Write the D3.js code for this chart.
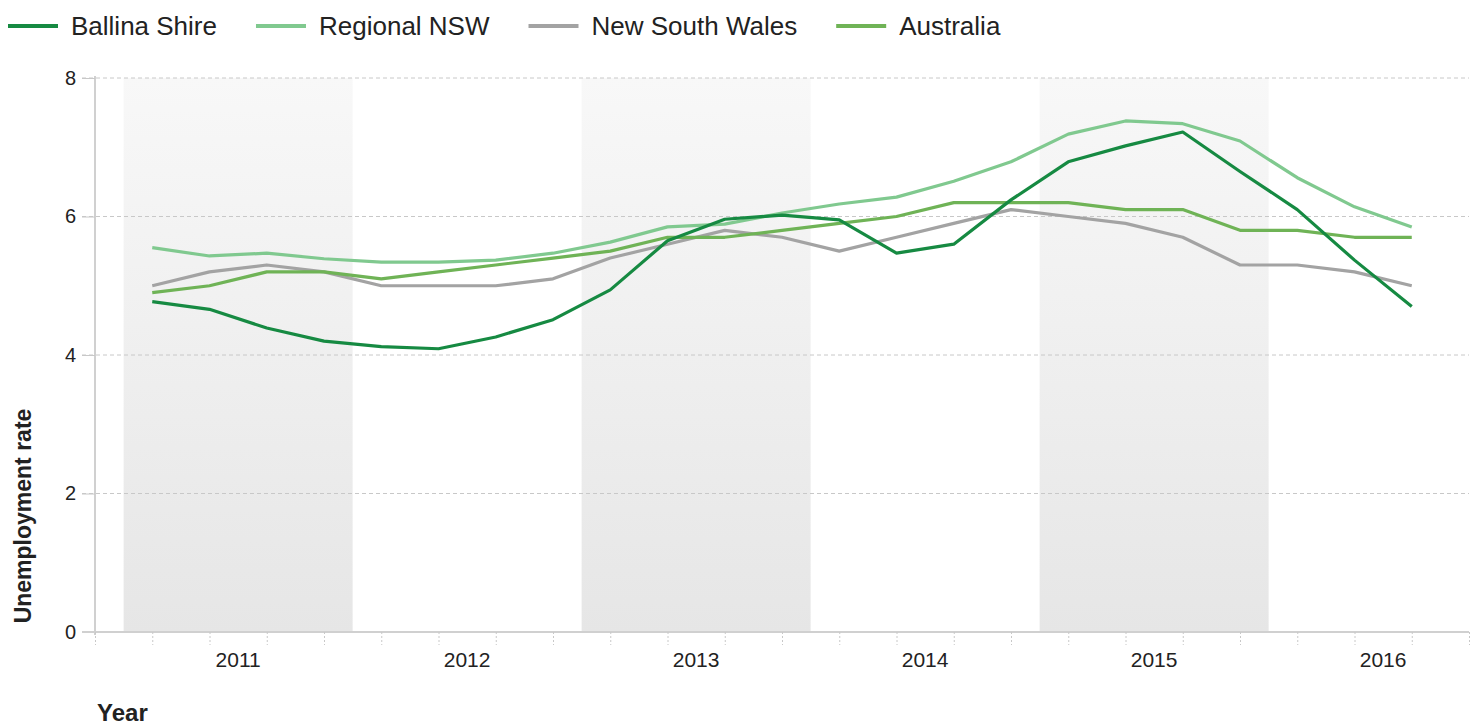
<!DOCTYPE html>
<html>
<head>
<meta charset="utf-8">
<script src="https://d3js.org/d3.v7.min.js"></script>
<style>
  body { margin: 0; background: #fff; }
  text { font-family: "Liberation Sans", Arial, sans-serif; fill: #222; }
</style>
</head>
<body>
<script>
// quarterly unemployment rate, Mar 2011 .. Sep 2016
var years = ["2011", "2012", "2013", "2014", "2015", "2016"];
var seriesNames = ["Ballina Shire", "Regional NSW", "New South Wales", "Australia"];
var ballina = [4.77, 4.66, 4.39, 4.20, 4.12, 4.09, 4.26, 4.51, 4.94, 5.65, 5.96, 6.02,
               5.95, 5.47, 5.60, 6.24, 6.79, 7.02, 7.22, 6.65, 6.10, 5.37, 4.70];
var regional = [5.55, 5.43, 5.47, 5.39, 5.34, 5.34, 5.37, 5.47, 5.63, 5.85, 5.89, 6.05,
                6.18, 6.28, 6.51, 6.79, 7.19, 7.38, 7.34, 7.09, 6.56, 6.14, 5.85];
var nsw = [5.0, 5.2, 5.3, 5.2, 5.0, 5.0, 5.0, 5.1, 5.4, 5.6, 5.8, 5.7,
           5.5, 5.7, 5.9, 6.1, 6.0, 5.9, 5.7, 5.3, 5.3, 5.2, 5.0];
var australia = [4.9, 5.0, 5.2, 5.2, 5.1, 5.2, 5.3, 5.4, 5.5, 5.7, 5.7, 5.8,
                 5.9, 6.0, 6.2, 6.2, 6.2, 6.1, 6.1, 5.8, 5.8, 5.7, 5.7];
var yTicks = [0, 2, 4, 6, 8];

var colors = ["#168a42", "#80c98f", "#a3a3a3", "#6fb356"];
var allSeries = [ballina, regional, nsw, australia];

var width = 1477, height = 725;
var plotL = 95, plotR = 1469, plotT = 78, plotB = 632;

var svg = d3.select("body").append("svg")
    .attr("width", width)
    .attr("height", height);

// x in quarter index, one extra slot on each side
var x = d3.scaleLinear().domain([-1, 23]).range([plotL, plotR]);
var y = d3.scaleLinear().domain([0, 8]).range([plotB, plotT]);

var defs = svg.append("defs");
var grad = defs.append("linearGradient")
    .attr("id", "band").attr("x1", 0).attr("y1", 0).attr("x2", 0).attr("y2", 1);
grad.append("stop").attr("offset", "0%").attr("stop-color", "#f8f8f8");
grad.append("stop").attr("offset", "100%").attr("stop-color", "#e6e6e6");

// shaded year bands (every other year)
svg.selectAll(".band")
    .data(years.filter(function(d, i) { return i % 2 == 0; }))
    .enter().append("rect")
    .attr("x", function(d) { return x(years.indexOf(d) * 4 - 0.5); })
    .attr("width", x(3.5) - x(-0.5))
    .attr("y", plotT)
    .attr("height", plotB - plotT)
    .attr("fill", "url(#band)");

// gridlines
svg.selectAll(".grid")
    .data(yTicks.filter(function(d) { return d > 0; }))
    .enter().append("line")
    .attr("x1", plotL - 13).attr("x2", plotR)
    .attr("y1", function(d) { return y(d); })
    .attr("y2", function(d) { return y(d); })
    .attr("stroke", "#c8c8c8")
    .attr("stroke-dasharray", "4,3");

// y axis
var yAxis = svg.append("g")
    .attr("transform", "translate(" + plotL + ",0)")
    .call(d3.axisLeft(y).tickValues(yTicks).tickSize(13).tickPadding(6));
yAxis.select(".domain").attr("stroke", "#d0d0d0").attr("stroke-width", 2)
    .attr("d", "M0," + (plotT - 2) + "V" + (plotB + 3));
yAxis.selectAll(".tick line").attr("stroke", "#c8c8c8");
yAxis.selectAll(".tick text").attr("font-size", 20).attr("fill", "#222")
    .attr("font-family", "Liberation Sans, Arial, sans-serif");

// x axis: tick per quarter, year label centred on its band
var xAxis = svg.append("g")
    .attr("transform", "translate(0," + plotB + ")")
    .call(d3.axisBottom(x).tickValues(d3.range(-1, 24)).tickSize(13).tickFormat(""));
xAxis.select(".domain").attr("stroke", "#d0d0d0").attr("stroke-width", 2)
    .attr("d", "M" + (plotL - 13) + ",0H" + plotR);
xAxis.selectAll(".tick line").attr("stroke", "#c8c8c8").attr("stroke-dasharray", "2,2");

svg.selectAll(".year")
    .data(years)
    .enter().append("text")
    .attr("x", function(d, i) { return x(i * 4 + 1.5); })
    .attr("y", 667)
    .attr("text-anchor", "middle")
    .attr("font-size", 21)
    .text(function(d) { return d; });

// axis titles
svg.append("text")
    .attr("transform", "translate(31," + 516 + ") rotate(-90)")
    .attr("text-anchor", "middle")
    .attr("font-size", 23)
    .attr("font-weight", "bold")
    .attr("fill", "#111")
    .text("Unemployment rate");

svg.append("text")
    .attr("x", 97).attr("y", 721)
    .attr("font-size", 24)
    .attr("font-weight", "bold")
    .attr("fill", "#111")
    .text("Year");

// series lines
var line = d3.line()
    .x(function(d, i) { return x(i); })
    .y(function(d) { return y(d); });

var order = [2, 3, 1, 0];
order.forEach(function(k) {
    svg.append("path")
        .datum(allSeries[k])
        .attr("fill", "none")
        .attr("stroke", colors[k])
        .attr("stroke-width", 3.2)
        .attr("stroke-linejoin", "round")
        .attr("d", line);
});

// legend
var lx = 8;
seriesNames.forEach(function(name, k) {
    svg.append("line")
        .attr("x1", lx).attr("x2", lx + 50)
        .attr("y1", 26).attr("y2", 26)
        .attr("stroke", colors[k])
        .attr("stroke-width", 4);
    var t = svg.append("text")
        .attr("x", lx + 63).attr("y", 35)
        .attr("font-size", 26)
        .text(name);
    lx += 63 + t.node().getComputedTextLength() + 39;
});
</script>
</body>
</html>
